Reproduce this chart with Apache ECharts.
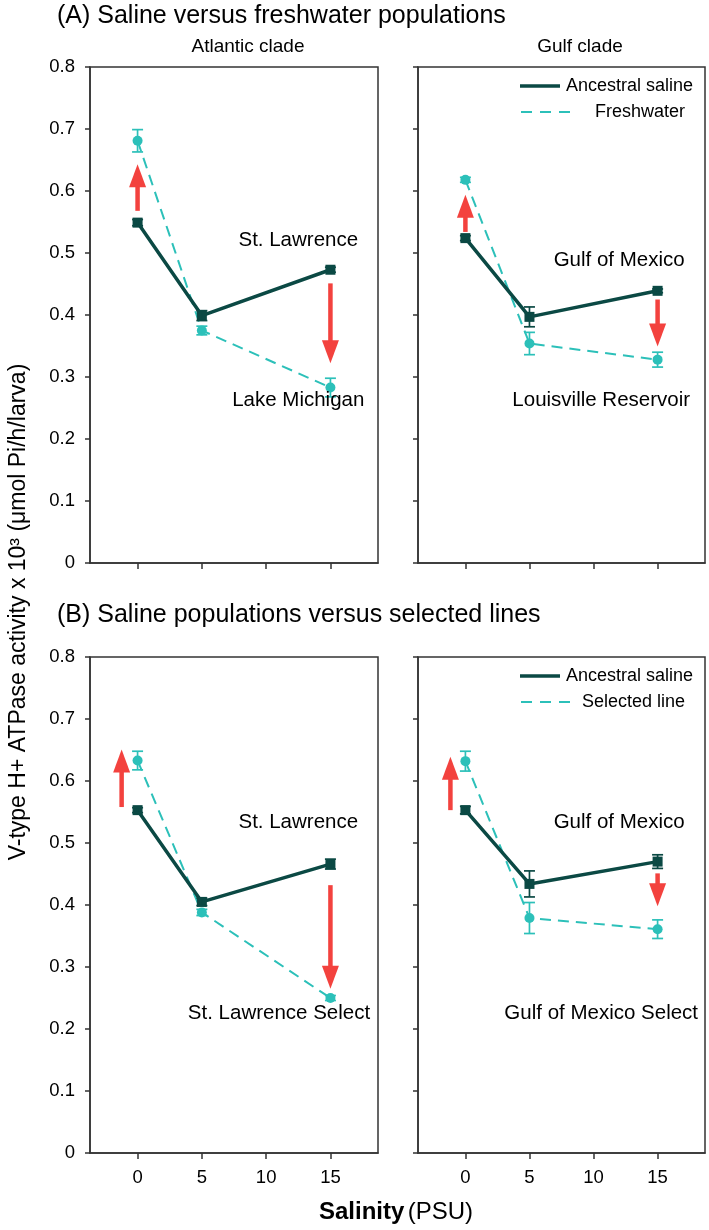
<!DOCTYPE html>
<html><head><meta charset="utf-8">
<script src="https://cdn.jsdelivr.net/npm/echarts@6/dist/echarts.min.js"></script>
<style>html,body{margin:0;padding:0;background:#fff}#c{width:709px;height:1230px}</style>
</head><body><div id="c"></div>
<script>
// ---------- data ----------
const salinity = [0, 5, 15];
const xTicks = [0, 5, 10, 15];

// (A) Atlantic clade: St. Lawrence (ancestral saline) vs Lake Michigan (freshwater)
const aAtlSaline    = [0.549, 0.399, 0.473];
const aAtlSalineErr = [0.005, 0.008, 0.004];
const aAtlFresh     = [0.681, 0.375, 0.283];
const aAtlFreshErr  = [0.018, 0.007, 0.015];
// (A) Gulf clade: Gulf of Mexico vs Louisville Reservoir
const aGulfSaline    = [0.524, 0.397, 0.439];
const aGulfSalineErr = [0.004, 0.016, 0.003];
const aGulfFresh     = [0.618, 0.354, 0.328];
const aGulfFreshErr  = [0.004, 0.018, 0.012];
// (B) Atlantic: St. Lawrence vs St. Lawrence Select
const bAtlSaline    = [0.553, 0.405, 0.466];
const bAtlSalineErr = [0.004, 0.006, 0.008];
const bAtlSel       = [0.633, 0.388, 0.250];
const bAtlSelErr    = [0.015, 0.005, 0.004];
// (B) Gulf: Gulf of Mexico vs Gulf of Mexico Select
const bGulfSaline    = [0.553, 0.434, 0.470];
const bGulfSalineErr = [0.006, 0.021, 0.011];
const bGulfSel       = [0.632, 0.379, 0.361];
const bGulfSelErr    = [0.016, 0.025, 0.015];

// red arrows: [salinity, from, to]
const arrowsAAtl  = [[0, 0.568, 0.643], [15, 0.451, 0.322]];
const arrowsAGulf = [[0, 0.534, 0.594], [15, 0.425, 0.349]];
const arrowsBAtl  = [[-1.24, 0.558, 0.651], [15, 0.432, 0.265]];
const arrowsBGulf = [[-1.17, 0.553, 0.639], [15, 0.451, 0.398]];

// in-plot population labels: [salinity, value, text]
const labelsAAtl  = [[12.5, 0.521, 'St. Lawrence'], [12.5, 0.263, 'Lake Michigan']];
const labelsAGulf = [[12.0, 0.488, 'Gulf of Mexico'], [10.6, 0.263, 'Louisville Reservoir']];
const labelsBAtl  = [[12.5, 0.533, 'St. Lawrence'], [11.0, 0.226, 'St. Lawrence Select']];
const labelsBGulf = [[12.0, 0.534, 'Gulf of Mexico'], [10.6, 0.226, 'Gulf of Mexico Select']];

const legendA = ['Ancestral saline', 'Freshwater'];
const legendB = ['Ancestral saline', 'Selected line'];

// ---------- style ----------
const FONT = "'Liberation Sans', Arial, Helvetica, sans-serif";
const TXT = '#000';
const DARK = '#0b4944';
const CYAN = '#2cc0b9';
const RED = '#f3423e';
const AXIS = '#333';

const grids = [
  {left: 90, top: 67, width: 288, height: 496},
  {left: 418, top: 67, width: 287, height: 496},
  {left: 90, top: 657, width: 288, height: 496},
  {left: 418, top: 657, width: 287, height: 496}
];

function errRender(color) {
  return function (params, api) {
    const x = api.value(0), lo = api.value(1), hi = api.value(2);
    const a = api.coord([x, lo]), b = api.coord([x, hi]);
    const cw = 5.5;
    const st = {stroke: color, lineWidth: 1.7};
    return {type: 'group', children: [
      {type: 'line', shape: {x1: a[0], y1: a[1], x2: b[0], y2: b[1]}, style: st},
      {type: 'line', shape: {x1: a[0] - cw, y1: a[1], x2: a[0] + cw, y2: a[1]}, style: st},
      {type: 'line', shape: {x1: b[0] - cw, y1: b[1], x2: b[0] + cw, y2: b[1]}, style: st}
    ]};
  };
}
function arrowRender(params, api) {
  const x = api.value(0);
  const p1 = api.coord([x, api.value(1)]), p2 = api.coord([x, api.value(2)]);
  const dir = p2[1] > p1[1] ? 1 : -1;
  const H = 23, W = 8.5;
  const baseY = p2[1] - dir * H;
  return {type: 'group', children: [
    {type: 'line', shape: {x1: p1[0], y1: p1[1], x2: p1[0], y2: baseY + dir * 2}, style: {stroke: RED, lineWidth: 4.5}},
    {type: 'polygon', shape: {points: [[p2[0], p2[1]], [p2[0] - W, baseY], [p2[0] + W, baseY]]}, style: {fill: RED}}
  ]};
}
function labelRender(params, api) {
  const p = api.coord([api.value(0), api.value(1)]);
  return {type: 'text', x: p[0], y: p[1], style: {text: api.value(2), font: '20.5px ' + FONT, fill: TXT, textAlign: 'center', textVerticalAlign: 'middle'}};
}

function panelSeries(i, saline, salineErr, other, otherErr, arrows, labels) {
  const ax = {xAxisIndex: i, yAxisIndex: i};
  return [
    Object.assign({type: 'line', data: salinity.map((s, k) => [s, other[k]]), symbol: 'circle', symbolSize: 10,
      lineStyle: {color: CYAN, width: 2, type: [11, 7]}, itemStyle: {color: CYAN}, z: 3, silent: true}, ax),
    Object.assign({type: 'custom', renderItem: errRender(CYAN), data: salinity.map((s, k) => [s, other[k] - otherErr[k], other[k] + otherErr[k]]), z: 4, silent: true}, ax),
    Object.assign({type: 'line', data: salinity.map((s, k) => [s, saline[k]]), symbol: 'rect', symbolSize: 10,
      lineStyle: {color: DARK, width: 3.5}, itemStyle: {color: DARK}, z: 5, silent: true}, ax),
    Object.assign({type: 'custom', renderItem: errRender(DARK), data: salinity.map((s, k) => [s, saline[k] - salineErr[k], saline[k] + salineErr[k]]), z: 6, silent: true}, ax),
    Object.assign({type: 'custom', renderItem: arrowRender, data: arrows, z: 7, silent: true}, ax),
    Object.assign({type: 'custom', renderItem: labelRender, data: labels,
      dimensions: ['x', 'y', {name: 't', type: 'ordinal'}], z: 8, silent: true}, ax)
  ];
}

const xAxes = grids.map((g, i) => ({
  gridIndex: i, type: 'value', min: -3.7, max: 18.7,
  axisLine: {show: true, onZero: false, lineStyle: {color: AXIS, width: 1.5}},
  axisTick: {show: true, inside: false, length: 6, customValues: xTicks, lineStyle: {color: AXIS, width: 1.5}},
  axisLabel: {show: i >= 2, customValues: xTicks, margin: 15, color: TXT, fontSize: 18.5, fontFamily: FONT},
  splitLine: {show: false}
}));
const yAxes = grids.map((g, i) => ({
  gridIndex: i, type: 'value', min: 0, max: 0.8, interval: 0.1,
  axisLine: {show: true, onZero: false, lineStyle: {color: AXIS, width: 1.5}},
  axisTick: {show: true, inside: false, length: 5, lineStyle: {color: AXIS, width: 1.5}},
  axisLabel: {show: i % 2 === 0, margin: 15, color: TXT, fontSize: 18.5, fontFamily: FONT,
    formatter: v => (Math.abs(v) < 1e-9 ? '0' : v.toFixed(1))},
  splitLine: {show: false}
}));

function legendGraphic(g, names) {
  const x0 = g.left + 102, y0 = g.top + 19;
  return {type: 'group', children: [
    {type: 'line', shape: {x1: x0, y1: y0, x2: x0 + 40, y2: y0}, style: {stroke: DARK, lineWidth: 3.5}},
    {type: 'text', x: x0 + 46, y: y0, style: {text: names[0], font: '18px ' + FONT, fill: TXT, textVerticalAlign: 'middle'}},
    {type: 'line', shape: {x1: x0 + 1, y1: y0 + 26, x2: x0 + 52, y2: y0 + 26}, style: {stroke: CYAN, lineWidth: 2, lineDash: [11, 8]}},
    {type: 'text', x: g.left + 267, y: y0 + 26, style: {text: names[1], font: '18px ' + FONT, fill: TXT, textAlign: 'right', textVerticalAlign: 'middle'}}
  ]};
}

const option = {
  animation: false,
  backgroundColor: '#fff',
  grid: grids.map(g => Object.assign({show: true, borderColor: AXIS, borderWidth: 1.5, backgroundColor: 'transparent'}, g)),
  xAxis: xAxes,
  yAxis: yAxes,
  series: [].concat(
    panelSeries(0, aAtlSaline, aAtlSalineErr, aAtlFresh, aAtlFreshErr, arrowsAAtl, labelsAAtl),
    panelSeries(1, aGulfSaline, aGulfSalineErr, aGulfFresh, aGulfFreshErr, arrowsAGulf, labelsAGulf),
    panelSeries(2, bAtlSaline, bAtlSalineErr, bAtlSel, bAtlSelErr, arrowsBAtl, labelsBAtl),
    panelSeries(3, bGulfSaline, bGulfSalineErr, bGulfSel, bGulfSelErr, arrowsBGulf, labelsBGulf)
  ),
  graphic: [
    {type: 'text', x: 57, y: 16, style: {text: '(A) Saline versus freshwater populations', font: '25px ' + FONT, fill: TXT, textVerticalAlign: 'middle'}},
    {type: 'text', x: 248, y: 47, style: {text: 'Atlantic clade', font: '19px ' + FONT, fill: TXT, textAlign: 'center', textVerticalAlign: 'middle'}},
    {type: 'text', x: 580, y: 47, style: {text: 'Gulf clade', font: '19px ' + FONT, fill: TXT, textAlign: 'center', textVerticalAlign: 'middle'}},
    {type: 'text', x: 57, y: 615, style: {text: '(B) Saline populations versus selected lines', font: '25px ' + FONT, fill: TXT, textVerticalAlign: 'middle'}},
    {type: 'text', x: 19, y: 612, rotation: Math.PI / 2, style: {text: 'V-type H+ ATPase activity x 10³ (μmol Pi/h/larva)', font: '23px ' + FONT, fill: TXT, textAlign: 'center', textVerticalAlign: 'middle'}},
    {type: 'text', x: 396, y: 1212, style: {text: '{b|Salinity} {n|(PSU)}', textAlign: 'center', textVerticalAlign: 'middle',
      rich: {b: {font: 'bold 24px ' + FONT, fill: TXT}, n: {font: '24px ' + FONT, fill: TXT}}}},
    legendGraphic(grids[1], legendA),
    legendGraphic(grids[3], legendB)
  ]
};
const chart = echarts.init(document.getElementById('c'), null, {renderer: 'canvas'});
chart.setOption(option);
</script></body></html>
